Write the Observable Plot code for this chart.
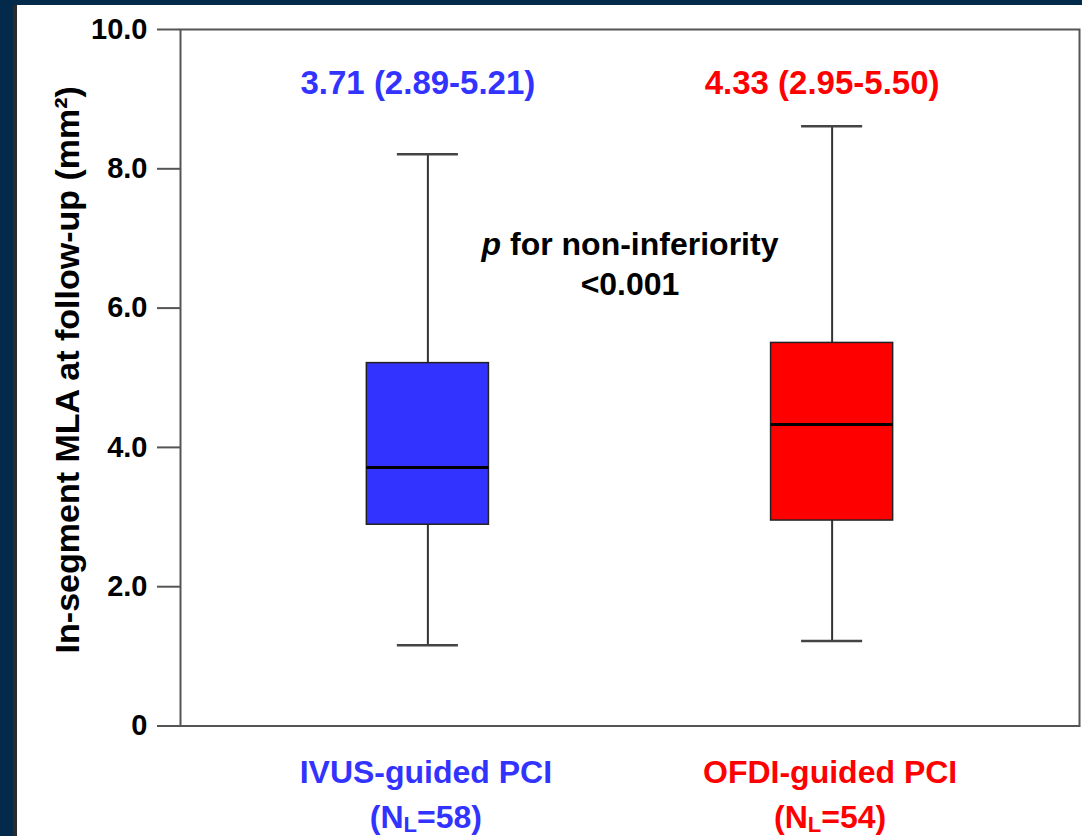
<!DOCTYPE html>
<html>
<head>
<meta charset="utf-8">
<script src="https://cdn.jsdelivr.net/npm/d3@7"></script>
<script src="https://cdn.jsdelivr.net/npm/@observablehq/plot@0.6"></script>
<style>
html, body { margin: 0; padding: 0; width: 1082px; height: 836px; overflow: hidden; background: #03294b; }
#panel { position: absolute; left: 13px; top: 5px; width: 1069px; height: 831px; background: #ffffff; border-left: 4px solid #2a2a2a; box-sizing: border-box; }
#chart { position: absolute; left: 0; top: 0; }
</style>
</head>
<body>
<div id="panel"></div>
<div id="chart"></div>
<script>
// ---- data ----
const groups = ["IVUS-guided PCI", "OFDI-guided PCI"];
const nLesions = [58, 54];
const medians = [3.71, 4.33];
const q1s = [2.89, 2.95];
const q3s = [5.21, 5.50];
const mins = [1.16, 1.22];
const maxs = [8.21, 8.61];
const yTicks = [0, 2, 4, 6, 8, 10];
const yTickLabels = ["0", "2.0", "4.0", "6.0", "8.0", "10.0"];
const yLabel = "In-segment MLA at follow-up (mm\u00B2)";
const pText = "p for non-inferiority\n<0.001";

const rows = groups.map((g, i) => ({
  group: g, n: nLesions[i], median: medians[i], q1: q1s[i], q3: q3s[i], min: mins[i], max: maxs[i]
}));

const font = "'Liberation Sans', Arial, Helvetica, sans-serif";

const plot = Plot.plot({
  width: 1082,
  height: 836,
  marginLeft: 180,
  marginRight: 3,
  marginTop: 29,
  marginBottom: 110.5,
  style: { background: "transparent", fontFamily: font, color: "#000", overflow: "visible" },
  x: { type: "band", domain: groups, paddingInner: 0.698, paddingOuter: 0.461, round: false, axis: null },
  y: { domain: [0, 10] },
  color: { domain: groups, range: ["#3333ff", "#ff0000"] },
  marks: [
    Plot.frame({ stroke: "#555", strokeWidth: 2 }),
    Plot.axisY(yTicks, {
      tickSize: 23, tickPadding: 10, fontSize: 29, fontWeight: "bold",
      stroke: "#555", strokeWidth: 2, fill: "#000", label: null,
      tickFormat: d => yTickLabels[yTicks.indexOf(d)]
    }),
    // whiskers
    Plot.ruleX(rows, { x: "group", y1: "min", y2: "q1", stroke: "#333", strokeWidth: 2 }),
    Plot.ruleX(rows, { x: "group", y1: "q3", y2: "max", stroke: "#333", strokeWidth: 2 }),
    // whisker caps
    Plot.tickY(rows, { x: "group", y: "max", insetLeft: 30.5, insetRight: 30.5, stroke: "#444", strokeWidth: 2.5 }),
    Plot.tickY(rows, { x: "group", y: "min", insetLeft: 30.5, insetRight: 30.5, stroke: "#444", strokeWidth: 2.5 }),
    // boxes
    Plot.barY(rows, { x: "group", y1: "q1", y2: "q3", fill: "group", stroke: "#222", strokeWidth: 1.5 }),
    // medians
    Plot.tickY(rows, { x: "group", y: "median", stroke: "#000", strokeWidth: 3 }),
    // summary annotations
    Plot.text(rows, {
      x: "group", frameAnchor: "top", lineAnchor: "top", dy: 41, dx: -10,
      text: d => `${d.median.toFixed(2)} (${d.q1.toFixed(2)}-${d.q3.toFixed(2)})`,
      fill: "group", fontSize: 33, fontWeight: "bold"
    }),
    // p value
    Plot.text([pText], {
      text: d => d, frameAnchor: "top", lineAnchor: "top", dy: 197.5,
      fontSize: 32, fontWeight: "bold", lineHeight: 1.25, fill: "#000"
    }),
    // category labels
    Plot.text(rows, {
      x: "group", frameAnchor: "bottom", lineAnchor: "top", dy: 25, dx: -2,
      text: d => `${d.group}\n(NL=${d.n})`,
      fill: "group", fontSize: 32, fontWeight: "bold", lineHeight: 1.4
    }),
    // y label
    Plot.text([yLabel], {
      text: d => d, frameAnchor: "left", textAnchor: "middle", rotate: -90, dx: -112, dy: -8,
      fontSize: 34, fontWeight: "bold", fill: "#000"
    })
  ]
});

document.getElementById("chart").appendChild(plot);

// rich text touches: italic p, subscript L
const svg = d3.select(plot);
svg.selectAll("tspan").each(function () {
  const t = this.textContent;
  const m = /^\(NL=(\d+)\)$/.exec(t);
  if (m) {
    this.textContent = "(N";
    const sub = document.createElementNS("http://www.w3.org/2000/svg", "tspan");
    sub.setAttribute("dy", "4");
    sub.setAttribute("font-size", "22");
    sub.textContent = "L";
    this.appendChild(sub);
    const rest = document.createElementNS("http://www.w3.org/2000/svg", "tspan");
    rest.setAttribute("dy", "-4");
    rest.textContent = "=" + m[1] + ")";
    this.appendChild(rest);
  } else if (t === "p for non-inferiority") {
    this.textContent = "";
    const it = document.createElementNS("http://www.w3.org/2000/svg", "tspan");
    it.setAttribute("font-style", "italic");
    it.textContent = "p";
    this.appendChild(it);
    this.appendChild(document.createTextNode(" for non-inferiority"));
  }
});
</script>
</body>
</html>
